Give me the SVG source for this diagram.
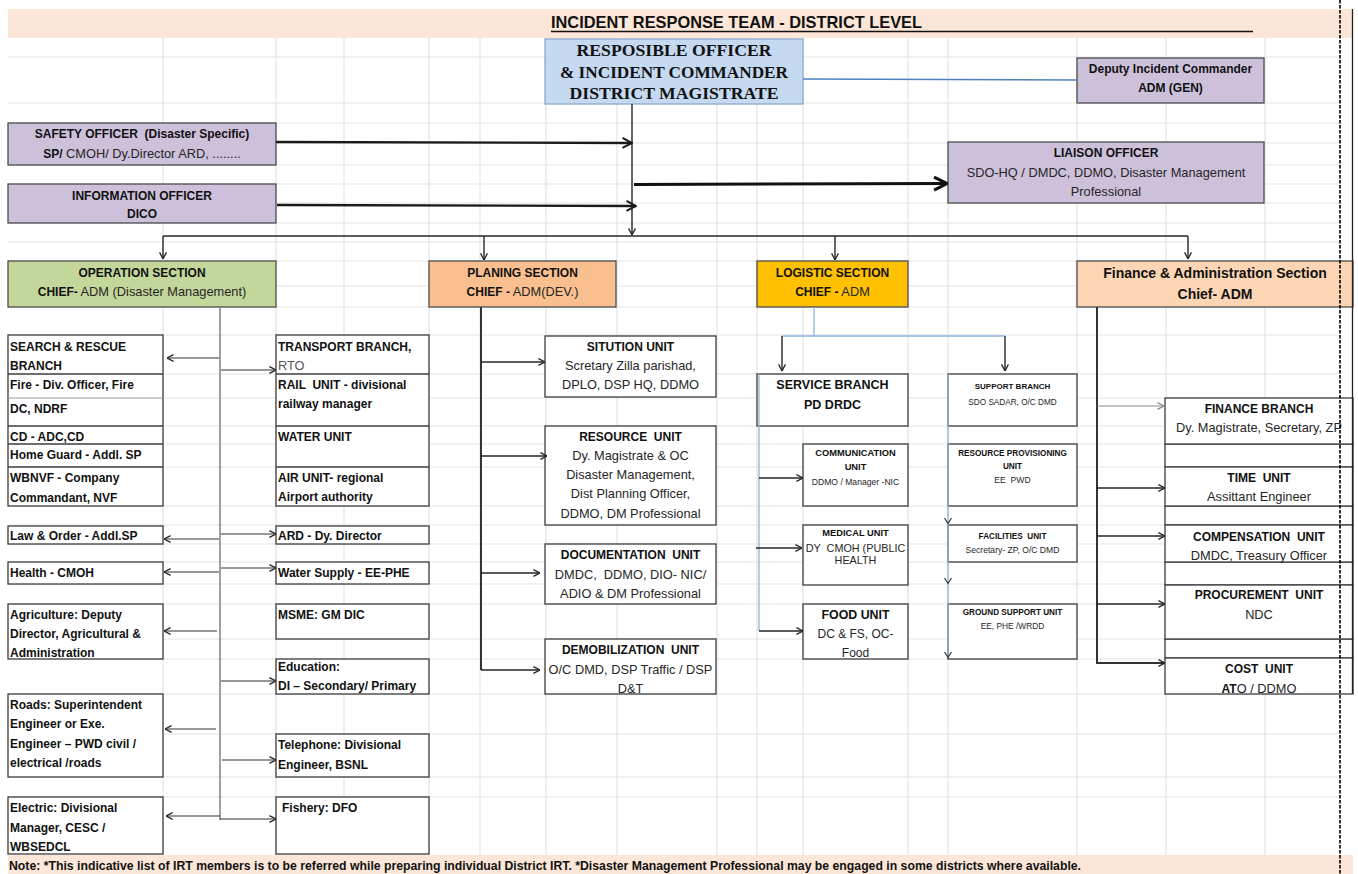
<svg xmlns="http://www.w3.org/2000/svg" width="1358" height="874" viewBox="0 0 1358 874">
<defs>
<style>
.t{font-family:"Liberation Sans",Arial,sans-serif;font-size:12.8px;fill:#262626;white-space:pre}
.b{font-weight:bold;font-size:12px;fill:#111}
.m{text-anchor:middle}
.sf{font-family:"Liberation Serif","Times New Roman",serif;font-weight:bold;font-size:17px;fill:#111}
.bx{fill:#fff;stroke:#3c3c3c;stroke-width:1.3}
.pu{fill:#CCC0DA;stroke:#4d4d4d;stroke-width:1.3}
.sep{stroke:#3c3c3c;stroke-width:1.3}
.g line{stroke:#e3e3e3;stroke-width:1.2}
.k{fill:none;stroke:#262626;stroke-width:1.4}
.k1{fill:none;stroke:#333;stroke-width:1.2}
.k2{fill:none;stroke:#1a1a1a;stroke-width:2.4}
.bl{fill:none;stroke:#8DB4E2;stroke-width:1.3}
</style>
<marker id="a" viewBox="0 0 8 8" refX="7.6" refY="4" markerWidth="8" markerHeight="8" markerUnits="userSpaceOnUse" orient="auto"><path d="M1,0.6 L7.6,4 L1,7.4" fill="none" stroke="#262626" stroke-width="1.3"/></marker>
<marker id="ag" viewBox="0 0 8 8" refX="7.6" refY="4" markerWidth="8" markerHeight="8" markerUnits="userSpaceOnUse" orient="auto"><path d="M1,0.6 L7.6,4 L1,7.4" fill="none" stroke="#8a8a8a" stroke-width="1.2"/></marker>
<marker id="a2" viewBox="0 0 12 12" refX="11" refY="6" markerWidth="12" markerHeight="12" markerUnits="userSpaceOnUse" orient="auto"><path d="M1.5,1 L11,6 L1.5,11" fill="none" stroke="#1a1a1a" stroke-width="2"/></marker>
<marker id="a3" viewBox="0 0 16 16" refX="15" refY="8" markerWidth="16" markerHeight="16" markerUnits="userSpaceOnUse" orient="auto"><path d="M2,1.5 L15,8 L2,14.5" fill="none" stroke="#111" stroke-width="3"/></marker>
</defs>
<rect x="0" y="0" width="1358" height="874" fill="#fff"/>
<g class="g" id="grid">
<line x1="8" y1="57" x2="1340" y2="57"/><line x1="8" y1="103" x2="1340" y2="103"/><line x1="8" y1="123" x2="1340" y2="123"/><line x1="8" y1="143" x2="1340" y2="143"/><line x1="8" y1="165" x2="1340" y2="165"/><line x1="8" y1="184" x2="1340" y2="184"/><line x1="8" y1="203" x2="1340" y2="203"/><line x1="8" y1="223" x2="1340" y2="223"/><line x1="8" y1="242" x2="1340" y2="242"/><line x1="8" y1="261" x2="1340" y2="261"/><line x1="8" y1="286" x2="1340" y2="286"/><line x1="8" y1="307" x2="1340" y2="307"/><line x1="8" y1="335" x2="1340" y2="335"/><line x1="8" y1="374" x2="1340" y2="374"/><line x1="8" y1="398" x2="1340" y2="398"/><line x1="8" y1="426" x2="1340" y2="426"/><line x1="8" y1="444" x2="1340" y2="444"/><line x1="8" y1="467" x2="1340" y2="467"/><line x1="8" y1="506" x2="1340" y2="506"/><line x1="8" y1="525" x2="1340" y2="525"/><line x1="8" y1="544" x2="1340" y2="544"/><line x1="8" y1="562" x2="1340" y2="562"/><line x1="8" y1="584" x2="1340" y2="584"/><line x1="8" y1="604" x2="1340" y2="604"/><line x1="8" y1="639" x2="1340" y2="639"/><line x1="8" y1="659" x2="1340" y2="659"/><line x1="8" y1="694" x2="1340" y2="694"/><line x1="8" y1="734" x2="1340" y2="734"/><line x1="8" y1="777" x2="1340" y2="777"/><line x1="8" y1="797" x2="1340" y2="797"/>
<line x1="163" y1="38" x2="163" y2="855"/><line x1="276" y1="38" x2="276" y2="855"/><line x1="344" y1="38" x2="344" y2="855"/><line x1="429" y1="38" x2="429" y2="855"/><line x1="480" y1="38" x2="480" y2="855"/><line x1="546" y1="38" x2="546" y2="855"/><line x1="617" y1="38" x2="617" y2="855"/><line x1="717" y1="38" x2="717" y2="855"/><line x1="757" y1="38" x2="757" y2="855"/><line x1="803" y1="38" x2="803" y2="855"/><line x1="908" y1="38" x2="908" y2="855"/><line x1="948" y1="38" x2="948" y2="855"/><line x1="1077" y1="38" x2="1077" y2="855"/><line x1="1166" y1="38" x2="1166" y2="855"/><line x1="1265" y1="38" x2="1265" y2="855"/>
</g>
<g id="title">
<rect x="8" y="9" width="1345" height="29" fill="#FCE6D8"/>
<text class="t" x="551" y="28.3" style="font-weight:bold;font-size:16.4px;fill:#111" textLength="371" lengthAdjust="spacingAndGlyphs">INCIDENT RESPONSE TEAM - DISTRICT LEVEL</text>
<line x1="551" y1="31.5" x2="1253" y2="31.5" stroke="#111" stroke-width="1.5"/>
</g>
<g id="incident-commander">
<rect x="545" y="39" width="258" height="65" fill="#C5D9F1" stroke="#8DA9CC" stroke-width="1.3"/>
<text class="sf m" x="674" y="56" textLength="195" lengthAdjust="spacingAndGlyphs">RESPOSIBLE OFFICER</text>
<text class="sf m" x="674" y="77.5" textLength="228" lengthAdjust="spacingAndGlyphs">&amp; INCIDENT COMMANDER</text>
<text class="sf m" x="674" y="98.7" textLength="209" lengthAdjust="spacingAndGlyphs">DISTRICT MAGISTRATE</text>
</g>
<g id="deputy-ic">
<rect class="pu" x="1077" y="58" width="187" height="45"/>
<text class="t b m" x="1170.5" y="72.7">Deputy Incident Commander</text>
<text class="t b m" x="1170.5" y="91.7">ADM (GEN)</text>
</g>
<g id="safety-officer">
<rect class="pu" x="8" y="123" width="268" height="42"/>
<text class="t b m" x="142" y="138.3">SAFETY OFFICER  (Disaster Specific)</text>
<text class="t m" x="142" y="157.7"><tspan class="b">SP/</tspan> CMOH/ Dy.Director ARD, ........</text>
</g>
<g id="information-officer">
<rect class="pu" x="8" y="184" width="268" height="39"/>
<text class="t b m" x="142" y="199.5">INFORMATION OFFICER</text>
<text class="t b m" x="142" y="218.3">DICO</text>
</g>
<g id="liaison-officer">
<rect class="pu" x="948" y="142" width="316" height="61"/>
<text class="t b m" x="1106" y="157.3">LIAISON OFFICER</text>
<text class="t m" x="1106" y="176.7">SDO-HQ / DMDC, DDMO, Disaster Management</text>
<text class="t m" x="1106" y="196">Professional</text>
</g>
<g id="operation-section">
<rect x="8" y="261" width="268" height="46" fill="#C4D79B" stroke="#4d4d4d" stroke-width="1.3"/>
<text class="t b m" x="142" y="276.7">OPERATION SECTION</text>
<text class="t m" x="142" y="296"><tspan class="b">CHIEF-</tspan> ADM (Disaster Management)</text>
</g>
<g id="planning-section">
<rect x="429" y="261" width="187" height="46" fill="#FABF8F" stroke="#4d4d4d" stroke-width="1.3"/>
<text class="t b m" x="522.5" y="276.7">PLANING SECTION</text>
<text class="t m" x="522.5" y="296"><tspan class="b">CHIEF -</tspan> ADM(DEV.)</text>
</g>
<g id="logistic-section">
<rect x="757" y="261" width="151" height="46" fill="#FFC000" stroke="#4d4d4d" stroke-width="1.3"/>
<text class="t b m" x="832.5" y="276.7">LOGISTIC SECTION</text>
<text class="t m" x="832.5" y="296"><tspan class="b">CHIEF -</tspan> ADM</text>
</g>
<g id="finance-section">
<rect x="1077" y="261" width="276" height="46" fill="#FCD5B4" stroke="#4d4d4d" stroke-width="1.3"/>
<text class="t b m" x="1215" y="278.3" style="font-size:14px">Finance &amp; Administration Section</text>
<text class="t b m" x="1215" y="299.3" style="font-size:14px">Chief- ADM</text>
</g>
<g id="search-rescue-branch">
<rect class="bx" x="8" y="335" width="155" height="171"/>
<line class="sep" x1="8" y1="374" x2="163" y2="374"/>
<line x1="8" y1="398" x2="163" y2="398" stroke="#9a9a9a" stroke-width="1"/>
<line class="sep" x1="8" y1="426" x2="163" y2="426"/>
<line class="sep" x1="8" y1="444" x2="163" y2="444"/>
<line class="sep" x1="8" y1="467" x2="163" y2="467"/>
<text class="t b" x="10" y="351">SEARCH &amp; RESCUE</text>
<text class="t b" x="10" y="370">BRANCH</text>
<text class="t b" x="10" y="389">Fire - Div. Officer, Fire</text>
<text class="t b" x="10" y="413">DC, NDRF</text>
<text class="t b" x="10" y="440.5">CD - ADC,CD</text>
<text class="t b" x="10" y="459">Home Guard - Addl. SP</text>
<text class="t b" x="10" y="481.5">WBNVF - Company</text>
<text class="t b" x="10" y="501.5">Commandant, NVF</text>
</g>
<g id="transport-branch">
<rect class="bx" x="276" y="335" width="153" height="171"/>
<line class="sep" x1="276" y1="374" x2="429" y2="374"/>
<line class="sep" x1="276" y1="426" x2="429" y2="426"/>
<line class="sep" x1="276" y1="467" x2="429" y2="467"/>
<text class="t b" x="278" y="351">TRANSPORT BRANCH,</text>
<text class="t" x="278" y="370" style="fill:#555">RTO</text>
<text class="t b" x="278" y="389">RAIL  UNIT - divisional</text>
<text class="t b" x="278" y="408">railway manager</text>
<text class="t b" x="278" y="440.5">WATER UNIT</text>
<text class="t b" x="278" y="481.5">AIR UNIT- regional</text>
<text class="t b" x="278" y="501">Airport authority</text>
</g>
<g id="law-order"><rect class="bx" x="8" y="526" width="155" height="18"/><text class="t b" x="10" y="540">Law &amp; Order - Addl.SP</text></g>
<g id="ard"><rect class="bx" x="276" y="526" width="153" height="18"/><text class="t b" x="278" y="540">ARD - Dy. Director</text></g>
<g id="health"><rect class="bx" x="8" y="562" width="155" height="22"/><text class="t b" x="10" y="577">Health - CMOH</text></g>
<g id="water-supply"><rect class="bx" x="276" y="562" width="153" height="22"/><text class="t b" x="278" y="577">Water Supply - EE-PHE</text></g>
<g id="agriculture"><rect class="bx" x="8" y="604" width="155" height="55"/>
<text class="t b" x="10" y="619">Agriculture: Deputy</text><text class="t b" x="10" y="638">Director, Agricultural &amp;</text><text class="t b" x="10" y="657">Administration</text></g>
<g id="msme"><rect class="bx" x="276" y="604" width="153" height="35"/><text class="t b" x="278" y="619">MSME: GM DIC</text></g>
<g id="education"><rect class="bx" x="276" y="659" width="153" height="35"/>
<text class="t b" x="278" y="671">Education:</text><text class="t b" x="278" y="690">DI – Secondary/ Primary</text></g>
<g id="roads"><rect class="bx" x="8" y="694" width="155" height="83"/>
<text class="t b" x="10" y="709">Roads: Superintendent</text><text class="t b" x="10" y="728">Engineer or Exe.</text><text class="t b" x="10" y="748">Engineer – PWD civil /</text><text class="t b" x="10" y="767">electrical /roads</text></g>
<g id="telephone"><rect class="bx" x="276" y="734" width="153" height="43"/>
<text class="t b" x="278" y="749">Telephone: Divisional</text><text class="t b" x="278" y="769">Engineer, BSNL</text></g>
<g id="electric"><rect class="bx" x="8" y="797" width="155" height="57"/>
<text class="t b" x="10" y="812">Electric: Divisional</text><text class="t b" x="10" y="832">Manager, CESC /</text><text class="t b" x="10" y="851">WBSEDCL</text></g>
<g id="fishery"><rect class="bx" x="276" y="797" width="153" height="57"/><text class="t b" x="282" y="812">Fishery: DFO</text></g>
<g id="situation-unit"><rect class="bx" x="545" y="336" width="171" height="61"/>
<text class="t b m" x="630.5" y="350.7">SITUTION UNIT</text><text class="t m" x="630.5" y="370">Scretary Zilla parishad,</text><text class="t m" x="630.5" y="389">DPLO, DSP HQ, DDMO</text></g>
<g id="resource-unit"><rect class="bx" x="545" y="426" width="171" height="99"/>
<text class="t b m" x="630.5" y="440.7">RESOURCE  UNIT</text><text class="t m" x="630.5" y="460">Dy. Magistrate &amp; OC</text><text class="t m" x="630.5" y="479">Disaster Management,</text><text class="t m" x="630.5" y="498">Dist Planning Officer,</text><text class="t m" x="630.5" y="517.7">DDMO, DM Professional</text></g>
<g id="documentation-unit"><rect class="bx" x="545" y="544" width="171" height="60"/>
<text class="t b m" x="630.5" y="559">DOCUMENTATION  UNIT</text><text class="t m" x="630.5" y="579">DMDC,  DDMO, DIO- NIC/</text><text class="t m" x="630.5" y="597.7">ADIO &amp; DM Professional</text></g>
<g id="demobilization-unit"><rect class="bx" x="545" y="639" width="171" height="55"/>
<text class="t b m" x="630.5" y="654">DEMOBILIZATION  UNIT</text><text class="t m" x="630.5" y="674">O/C DMD, DSP Traffic / DSP</text><text class="t m" x="630.5" y="692.7">D&amp;T</text></g>
<g id="service-branch"><rect class="bx" x="757" y="374" width="151" height="52"/>
<text class="t b m" x="832.5" y="389.3" style="font-size:12.5px">SERVICE BRANCH</text><text class="t b m" x="832.5" y="409" style="font-size:12.5px">PD DRDC</text></g>
<g id="communication-unit"><rect class="bx" x="803" y="444" width="105" height="62"/>
<text class="t b m" x="855.5" y="455.7" style="font-size:9.3px">COMMUNICATION</text><text class="t b m" x="855.5" y="470" style="font-size:9.3px">UNIT</text><text class="t m" x="855.5" y="485" style="font-size:8.6px">DDMO / Manager -NIC</text></g>
<g id="medical-unit"><rect class="bx" x="803" y="525" width="105" height="60"/>
<text class="t b m" x="855.5" y="536" style="font-size:9.3px">MEDICAL UNIT</text><text class="t m" x="855.5" y="551.7" style="font-size:10.8px">DY  CMOH (PUBLIC</text><text class="t m" x="855.5" y="564" style="font-size:10.8px">HEALTH</text></g>
<g id="food-unit"><rect class="bx" x="803" y="604" width="105" height="55"/>
<text class="t b m" x="855.5" y="619" style="font-size:12.4px">FOOD UNIT</text><text class="t m" x="855.5" y="638.3" style="font-size:12px">DC &amp; FS, OC-</text><text class="t m" x="855.5" y="656.7" style="font-size:12px">Food</text></g>
<g id="support-branch"><rect class="bx" x="948" y="374" width="129" height="52"/>
<text class="t b m" x="1012.5" y="389.3" style="font-size:8px">SUPPORT BRANCH</text><text class="t m" x="1012.5" y="405" style="font-size:8.2px">SDO SADAR, O/C DMD</text></g>
<g id="resource-provisioning-unit"><rect class="bx" x="948" y="444" width="129" height="62"/>
<text class="t b m" x="1012.5" y="455.7" style="font-size:8.2px">RESOURCE PROVISIONING</text><text class="t b m" x="1012.5" y="469" style="font-size:8.2px">UNIT</text><text class="t m" x="1012.5" y="482.7" style="font-size:8.6px">EE  PWD</text></g>
<g id="facilities-unit"><rect class="bx" x="948" y="525" width="129" height="37"/>
<text class="t b m" x="1012.5" y="539.3" style="font-size:8.2px">FACILITIES  UNIT</text><text class="t m" x="1012.5" y="553.3" style="font-size:8.6px">Secretary- ZP, O/C DMD</text></g>
<g id="ground-support-unit"><rect class="bx" x="948" y="604" width="129" height="55"/>
<text class="t b m" x="1012.5" y="615" style="font-size:8.2px">GROUND SUPPORT UNIT</text><text class="t m" x="1012.5" y="629" style="font-size:8.4px">EE, PHE /WRDD</text></g>
<g id="finance-cells">
<rect class="bx" x="1165" y="444" width="188" height="23"/>
<rect class="bx" x="1165" y="506" width="188" height="19"/>
<rect class="bx" x="1165" y="562" width="188" height="23"/>
<rect class="bx" x="1165" y="639" width="188" height="19"/>
</g>
<g id="finance-branch"><rect class="bx" x="1165" y="398" width="188" height="46"/>
<text class="t b m" x="1259" y="412.7">FINANCE BRANCH</text><text class="t m" x="1259" y="431.7">Dy. Magistrate, Secretary, ZP</text></g>
<g id="time-unit"><rect class="bx" x="1165" y="467" width="188" height="39"/>
<text class="t b m" x="1259" y="481.7">TIME  UNIT</text><text class="t m" x="1259" y="501">Assittant Engineer</text></g>
<g id="compensation-unit"><rect class="bx" x="1165" y="525" width="188" height="37"/>
<text class="t b m" x="1259" y="540.7">COMPENSATION  UNIT</text><text class="t m" x="1259" y="560">DMDC, Treasury Officer</text></g>
<g id="procurement-unit"><rect class="bx" x="1165" y="585" width="188" height="54"/>
<text class="t b m" x="1259" y="599.3">PROCUREMENT  UNIT</text><text class="t m" x="1259" y="619">NDC</text></g>
<g id="cost-unit"><rect class="bx" x="1165" y="658" width="188" height="36"/>
<text class="t b m" x="1259" y="673.3">COST  UNIT</text><text class="t m" x="1259" y="692.5"><tspan class="b">AT</tspan>O / DDMO</text></g>
<g id="connectors">
<line x1="803" y1="79" x2="1077" y2="80" stroke="#4F81BD" stroke-width="1.6"/>
<line class="k" x1="632" y1="104" x2="632" y2="235" marker-end="url(#a)"/>
<line class="k2" x1="276" y1="142" x2="632" y2="143" marker-end="url(#a2)"/>
<line class="k2" x1="277" y1="205" x2="636" y2="206" marker-end="url(#a2)"/>
<line x1="634" y1="184.5" x2="947" y2="183.5" fill="none" stroke="#111" stroke-width="3" marker-end="url(#a3)"/>
<line class="k" x1="163" y1="236" x2="1188" y2="236"/>
<line class="k" x1="163" y1="236" x2="163" y2="259" marker-end="url(#a)"/>
<line class="k" x1="484" y1="236" x2="484" y2="260" marker-end="url(#a)"/>
<line class="k" x1="835" y1="236" x2="835" y2="260" marker-end="url(#a)"/>
<line class="k" x1="1188" y1="236" x2="1188" y2="259" marker-end="url(#a)"/>
<line x1="220" y1="307" x2="220" y2="820" stroke="#7f7f7f" stroke-width="1.5"/>
<line class="k1" x1="219" y1="358" x2="167" y2="358" marker-end="url(#a)"/>
<line class="k1" x1="221" y1="370" x2="276" y2="370" marker-end="url(#a)"/>
<line class="k1" x1="219" y1="539" x2="164" y2="539" marker-end="url(#a)"/>
<line class="k1" x1="221" y1="534" x2="276" y2="534" marker-end="url(#a)"/>
<line class="k1" x1="219" y1="572" x2="164" y2="572" marker-end="url(#a)"/>
<line class="k1" x1="221" y1="568" x2="276" y2="568" marker-end="url(#a)"/>
<line class="k1" x1="217" y1="631" x2="164" y2="631" marker-end="url(#a)"/>
<line class="k1" x1="221" y1="681" x2="276" y2="681" marker-end="url(#a)"/>
<line class="k1" x1="216" y1="729" x2="165" y2="729" marker-end="url(#a)"/>
<line class="k1" x1="222" y1="760" x2="276" y2="760" marker-end="url(#a)"/>
<line class="k1" x1="220" y1="816" x2="166" y2="816" marker-end="url(#a)"/>
<line class="k1" x1="220" y1="819" x2="276" y2="819" marker-end="url(#a)"/>
<line x1="481" y1="307" x2="481" y2="670" stroke="#333" stroke-width="2"/>
<line class="k" x1="481" y1="362" x2="545" y2="362" marker-end="url(#a)"/>
<line class="k" x1="481" y1="456" x2="547" y2="456" marker-end="url(#a)"/>
<line class="k" x1="481" y1="573" x2="540" y2="573" marker-end="url(#a)"/>
<line class="k" x1="481" y1="670" x2="540" y2="670" marker-end="url(#a)"/>
<polyline class="bl" points="814,307 814,336"/>
<line class="bl" x1="782" y1="336" x2="1005" y2="336"/>
<line class="k" x1="782" y1="336" x2="782" y2="371" marker-end="url(#a)"/>
<line class="k" x1="1005" y1="336" x2="1005" y2="371" marker-end="url(#a)"/>
<line class="bl" x1="759" y1="374" x2="759" y2="631"/>
<line class="k" x1="759" y1="478" x2="803" y2="478" marker-end="url(#a)"/>
<line class="k" x1="756" y1="548" x2="802" y2="548" marker-end="url(#a)"/>
<line class="k" x1="759" y1="631" x2="803" y2="631" marker-end="url(#a)"/>
<line class="bl" x1="948" y1="374" x2="948" y2="658"/>
<path class="k1" d="M944.5,518 L948,523.5 L951.5,518 M944.5,578 L948,583.5 L951.5,578 M944.5,652 L948,657.5 L951.5,652"/>
<path d="M1097,307 V663 H1165" fill="none" stroke="#333" stroke-width="2" marker-end="url(#a)"/>
<line x1="1097" y1="406" x2="1164" y2="406" stroke="#8a8a8a" stroke-width="1.2" marker-end="url(#ag)"/>
<line class="k" x1="1097" y1="488" x2="1165" y2="488" marker-end="url(#a)"/>
<line class="k" x1="1097" y1="536" x2="1165" y2="536" marker-end="url(#a)"/>
<line class="k" x1="1097" y1="604" x2="1165" y2="604" marker-end="url(#a)"/>
</g>
<g id="note">
<rect x="8" y="855" width="1345" height="19" fill="#FCE6D8"/>
<text class="t b" x="9" y="869.5" textLength="1072" lengthAdjust="spacingAndGlyphs">Note: *This indicative list of IRT members is to be referred while preparing individual District IRT. *Disaster Management Professional may be engaged in some districts where available.</text>
</g>
<g id="page-edges">
<line x1="1352.5" y1="9" x2="1352.5" y2="694" stroke="#222" stroke-width="1.3"/>
<line x1="1340" y1="0" x2="1340" y2="874" stroke="#000" stroke-width="1.6" stroke-dasharray="3.5 1.5"/>
</g>
</svg>
